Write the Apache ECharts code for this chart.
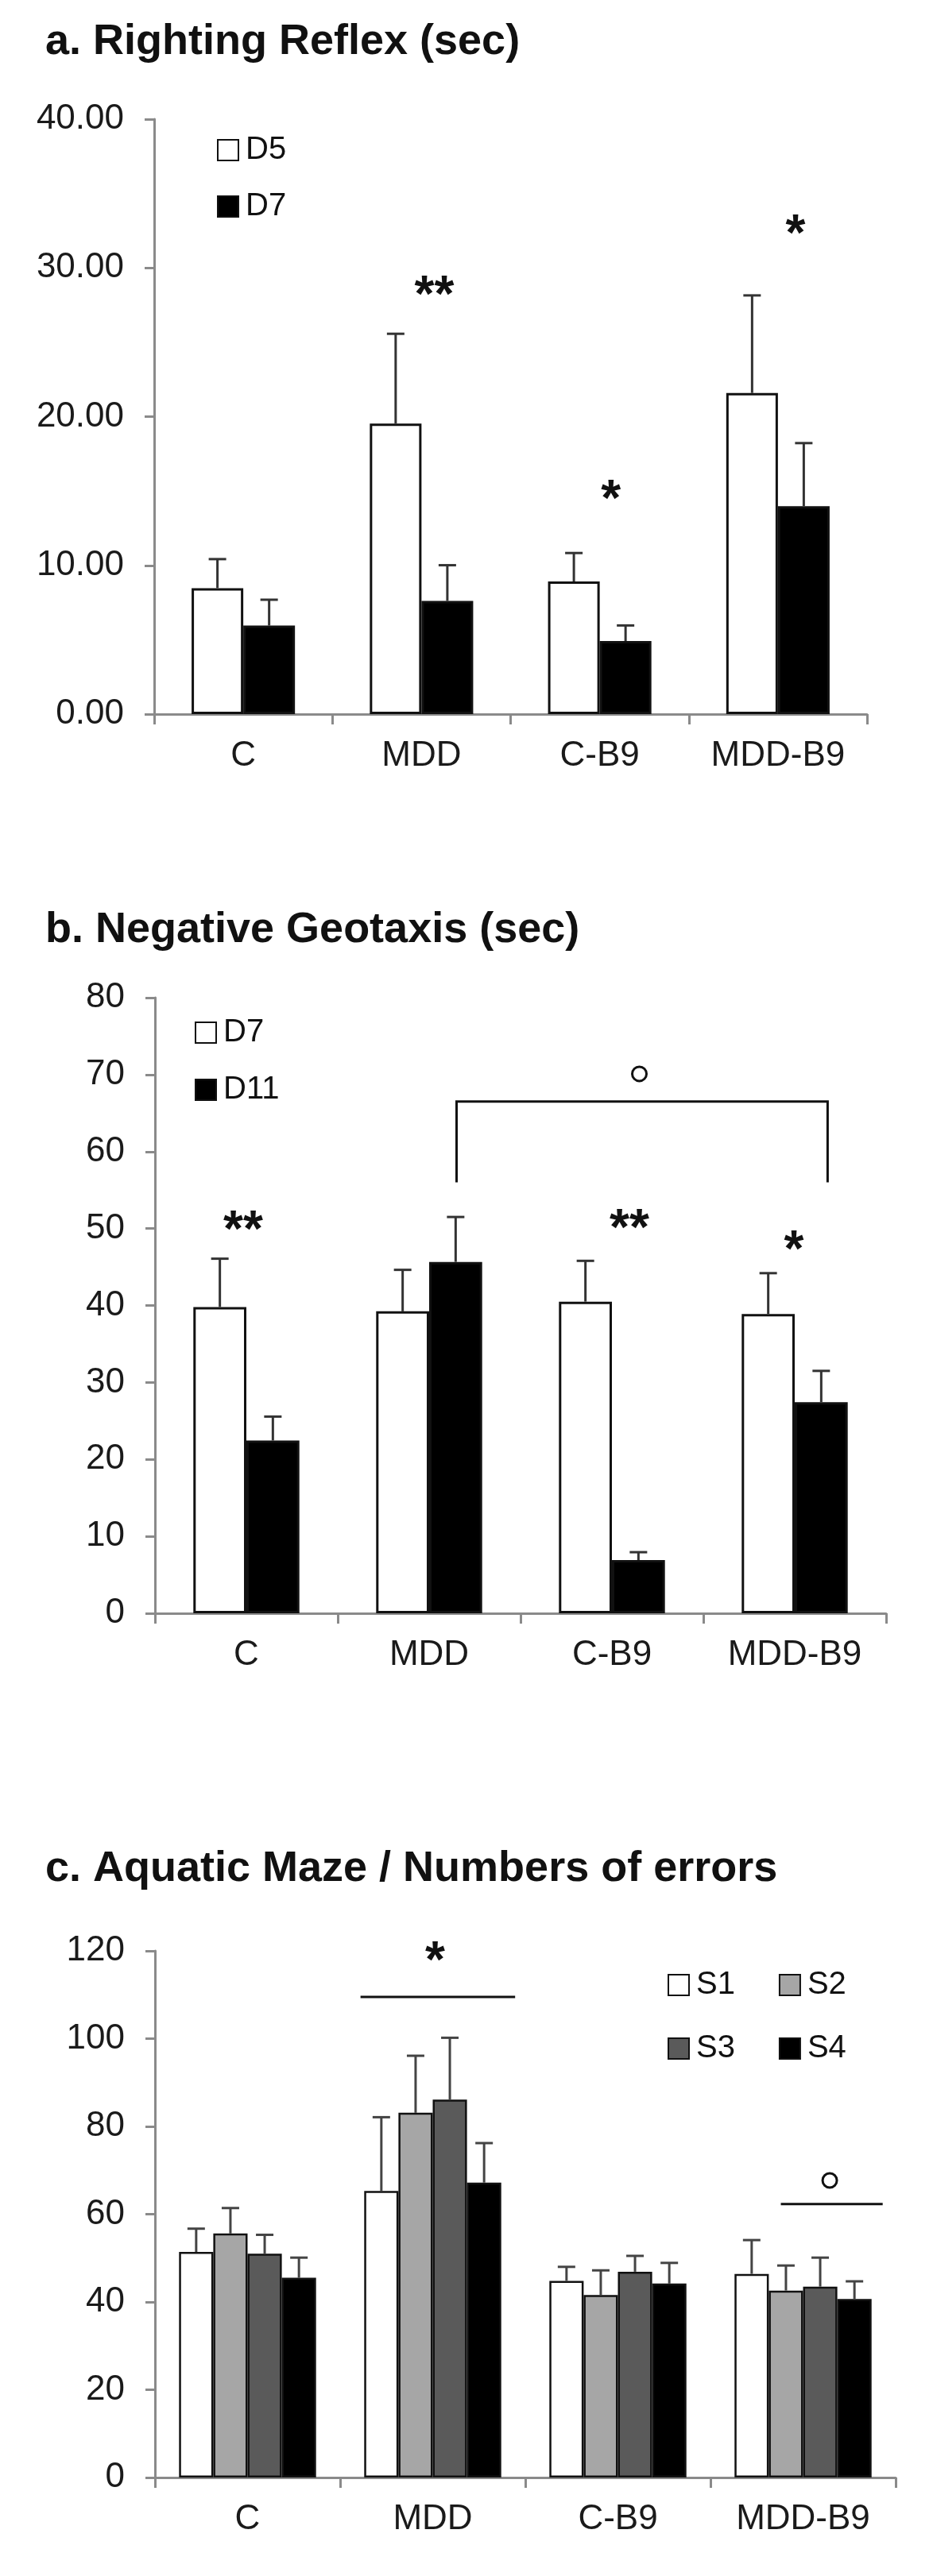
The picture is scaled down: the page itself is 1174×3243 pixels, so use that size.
<!DOCTYPE html>
<html lang="en">
<head>
<meta charset="UTF-8">
<title>Righting reflex, negative geotaxis, aquatic maze</title>
<script src="https://cdn.jsdelivr.net/npm/echarts@6/dist/echarts.min.js"></script>
<style>
  html, body { margin: 0; padding: 0; background: #fff; }
  .panel { position: absolute; left: 0; width: 1174px; }
</style>
</head>
<body>
<div id="pa" class="panel" style="top:0;height:1100px;"></div>
<div id="pb" class="panel" style="top:1100px;height:1050px;"></div>
<div id="pc" class="panel" style="top:2150px;height:1093px;"></div>

<script>
// ---- values ----
const groups = ['C', 'MDD', 'C-B9', 'MDD-B9'];

// a. Righting Reflex (sec)
const aTicks = [0, 10, 20, 30, 40];
const aD5 = [8.47, 19.53, 8.92, 21.59];
const aD5Top = [10.42, 25.57, 10.83, 28.15];
const aD7 = [5.95, 7.61, 4.91, 13.98];
const aD7Top = [7.69, 10.01, 5.96, 18.22];
const aStars = [[1, 28.7, '**'], [2, 15.0, '*'], [3, 32.8, '*']];

// b. Negative Geotaxis (sec)
const bTicks = [0, 10, 20, 30, 40, 50, 60, 70, 80];
const bD7 = [39.8, 39.24, 40.5, 38.9];
const bD7Top = [46.08, 44.63, 45.8, 44.2];
const bD11 = [22.45, 45.66, 6.91, 27.43];
const bD11Top = [25.56, 51.5, 7.94, 31.5];
const bStars = [[0, 50.8, '**'], [2, 51.0, '**'], [3, 48.3, '*']];
const bBracket = [1, 3, 56.0, 66.5];   // from group, to group, foot, top
const bCircle = [1, 70.1];

// c. Aquatic Maze / Numbers of errors
const cTicks = [0, 20, 40, 60, 80, 100, 120];
const cS1 = [51.4, 65.3, 44.8, 46.4];
const cS1Top = [56.7, 82.1, 48.0, 54.1];
const cS2 = [55.6, 83.1, 41.6, 42.6];
const cS2Top = [61.4, 96.1, 47.2, 48.3];
const cS3 = [51.0, 86.1, 46.9, 43.5];
const cS3Top = [55.3, 100.2, 50.5, 50.1];
const cS4 = [45.5, 67.2, 44.2, 40.7];
const cS4Top = [50.1, 76.2, 48.9, 44.7];
const cStars = [[1, 119.5, '*']];
const cStarLine = [1, 109.5];
const cCircle = [3, 67.7];
const cCircleLine = [3, 62.3];

// ---- layout tweaks (px / band fractions), kept apart from the data ----
const FONT = '"Liberation Sans", Arial, Helvetica, sans-serif';
const STAR_SIZE = 64;
const aStarNudge = [16, 14, 22];
const bStarNudge = [-4, 22, -1];
const cStarNudge = [3];

function errSeries(values, tops, k, n, frac, color) {
  return {
    type: 'custom', silent: true, z: 5, clip: false, animation: false,
    data: values.map((v, i) => [i, tops[i], v]),
    renderItem: function (params, api) {
      const band = api.size([1, 0])[0];
      const top = api.coord([api.value(0), api.value(1)]);
      const base = api.coord([api.value(0), api.value(2)]);
      const x = top[0] + (k - (n - 1) / 2) * band * frac;
      const st = { stroke: color, lineWidth: 3 };
      return {
        type: 'group',
        children: [
          { type: 'line', shape: { x1: x, y1: base[1], x2: x, y2: top[1] }, style: st },
          { type: 'line', shape: { x1: x - 11, y1: top[1], x2: x + 11, y2: top[1] }, style: st }
        ]
      };
    }
  };
}

function starSeries(items, nudges) {
  return {
    type: 'custom', silent: true, z: 10, clip: false, animation: false,
    data: items.map(d => [d[0], d[1]]),
    renderItem: function (params, api) {
      const i = params.dataIndex;
      const p = api.coord([api.value(0), api.value(1)]);
      return {
        type: 'text', x: p[0] + nudges[i], y: p[1] + STAR_SIZE * 0.2,
        style: {
          text: items[i][2], fontSize: STAR_SIZE, fontWeight: 'bold', fontFamily: FONT,
          fill: '#111', align: 'center', verticalAlign: 'middle'
        }
      };
    }
  };
}

function shapeSeries(anchor, draw) {
  return {
    type: 'custom', silent: true, z: 10, clip: false, animation: false,
    data: [anchor],
    renderItem: function (params, api) { return draw(api); }
  };
}

function circle(api, cat, v, dxFrac) {
  const band = api.size([1, 0])[0];
  const p = api.coord([cat, v]);
  return {
    type: 'circle', shape: { cx: p[0] + dxFrac * band, cy: p[1], r: 9 },
    style: { fill: 'none', stroke: '#111', lineWidth: 3 }
  };
}

function hline(api, cat, v, f1, f2) {
  const band = api.size([1, 0])[0];
  const p = api.coord([cat, v]);
  return {
    type: 'line', shape: { x1: p[0] + f1 * band, y1: p[1], x2: p[0] + f2 * band, y2: p[1] },
    style: { stroke: '#111', lineWidth: 3 }
  };
}

function buildChart(id, cfg) {
  const chart = echarts.init(document.getElementById(id));
  const n = cfg.series.length;
  const series = [];
  cfg.series.forEach(function (s) {
    series.push({
      type: 'bar', name: s.name, data: s.values, silent: true, animation: false,
      barWidth: (cfg.barFrac * 100) + '%', barGap: '0%',
      itemStyle: { color: s.color, borderColor: '#111', borderWidth: cfg.border }
    });
  });
  cfg.series.forEach(function (s, k) {
    series.push(errSeries(s.values, s.tops, k, n, cfg.barFrac, cfg.errColor));
  });
  (cfg.extra || []).forEach(e => series.push(e));

  const ticks = cfg.ticks;
  chart.setOption({
    animation: false,
    backgroundColor: '#fff',
    textStyle: { fontFamily: FONT },
    title: {
      text: cfg.title, left: 57, top: cfg.titleTop, padding: 0,
      textStyle: { fontFamily: FONT, fontSize: 54, fontWeight: 'bold', color: '#111' }
    },
    legend: cfg.legends.map(function (lg) {
      return Object.assign({
        icon: 'rect', itemWidth: 26, itemHeight: 26, padding: 0, selectedMode: false,
        itemStyle: { borderColor: '#111', borderWidth: 2 },
        textStyle: { fontFamily: FONT, fontSize: 40, color: '#111', lineHeight: 40, padding: [0, 0, 0, 4] }
      }, lg);
    }),
    grid: Object.assign({ containLabel: false, outerBoundsMode: 'none' }, cfg.grid),
    xAxis: {
      type: 'category', data: groups,
      axisLine: { lineStyle: { color: '#8a8a8a', width: 3 } },
      axisTick: { show: true, length: 13, lineStyle: { color: '#8a8a8a', width: 3 } },
      axisLabel: { fontFamily: FONT, fontSize: 44, color: '#1a1a1a', margin: 31 },
      splitLine: { show: false }
    },
    yAxis: {
      type: 'value', min: ticks[0], max: ticks[ticks.length - 1], interval: ticks[1] - ticks[0],
      axisLine: { show: true, lineStyle: { color: '#8a8a8a', width: 3 } },
      axisTick: { show: true, length: 12, lineStyle: { color: '#8a8a8a', width: 3 } },
      axisLabel: { fontFamily: FONT, fontSize: 44, color: '#1a1a1a', margin: 38, formatter: cfg.fmt },
      splitLine: { show: false }
    },
    series: series
  });
}

// a
buildChart('pa', {
  title: 'a. Righting Reflex (sec)', titleTop: 26,
  grid: { left: 194, top: 150, width: 897, height: 749 },
  ticks: aTicks, fmt: v => v.toFixed(2),
  barFrac: 0.29, border: 3, errColor: '#333',
  series: [
    { name: 'D5', values: aD5, tops: aD5Top, color: '#fff' },
    { name: 'D7', values: aD7, tops: aD7Top, color: '#000' }
  ],
  legends: [{ orient: 'vertical', left: 273, top: 169, itemGap: 31, data: ['D5', 'D7'] }],
  extra: [starSeries(aStars, aStarNudge)]
});

// b
buildChart('pb', {
  title: 'b. Negative Geotaxis (sec)', titleTop: 44,
  grid: { left: 195, top: 156, width: 920, height: 775 },
  ticks: bTicks, fmt: v => String(v),
  barFrac: 0.29, border: 3, errColor: '#333',
  series: [
    { name: 'D7', values: bD7, tops: bD7Top, color: '#fff' },
    { name: 'D11', values: bD11, tops: bD11Top, color: '#000' }
  ],
  legends: [{ orient: 'vertical', left: 245, top: 180, itemGap: 32, data: ['D7', 'D11'] }],
  extra: [
    starSeries(bStars, bStarNudge),
    shapeSeries([bBracket[0], bBracket[3]], function (api) {
      const band = api.size([1, 0])[0];
      const l = api.coord([bBracket[0], bBracket[3]]);
      const r = api.coord([bBracket[1], bBracket[3]]);
      const foot = api.coord([bBracket[0], bBracket[2]])[1];
      const xl = l[0] + 0.15 * band, xr = r[0] + 0.18 * band;
      return {
        type: 'polyline',
        shape: { points: [[xl, foot], [xl, l[1]], [xr, l[1]], [xr, foot]] },
        style: { stroke: '#111', lineWidth: 3, fill: 'none' }
      };
    }),
    shapeSeries(bCircle, api => circle(api, bCircle[0], bCircle[1], 1.15))
  ]
});

// c
buildChart('pc', {
  title: 'c. Aquatic Maze / Numbers of errors', titleTop: 176,
  grid: { left: 195, top: 306, width: 932, height: 663 },
  ticks: cTicks, fmt: v => String(v),
  barFrac: 0.185, border: 2.5, errColor: '#444',
  series: [
    { name: 'S1', values: cS1, tops: cS1Top, color: '#fff' },
    { name: 'S2', values: cS2, tops: cS2Top, color: '#a6a6a6' },
    { name: 'S3', values: cS3, tops: cS3Top, color: '#5a5a5a' },
    { name: 'S4', values: cS4, tops: cS4Top, color: '#000' }
  ],
  legends: [
    { orient: 'horizontal', left: 840, top: 329, itemGap: 55, data: ['S1', 'S2'] },
    { orient: 'horizontal', left: 840, top: 409, itemGap: 55, data: ['S3', 'S4'] }
  ],
  extra: [
    starSeries(cStars, cStarNudge),
    shapeSeries(cStarLine, api => hline(api, cStarLine[0], cStarLine[1], -0.39, 0.445)),
    shapeSeries(cCircle, api => circle(api, cCircle[0], cCircle[1], 0.144)),
    shapeSeries(cCircleLine, api => hline(api, cCircleLine[0], cCircleLine[1], -0.12, 0.43))
  ]
});
</script>
</body>
</html>
